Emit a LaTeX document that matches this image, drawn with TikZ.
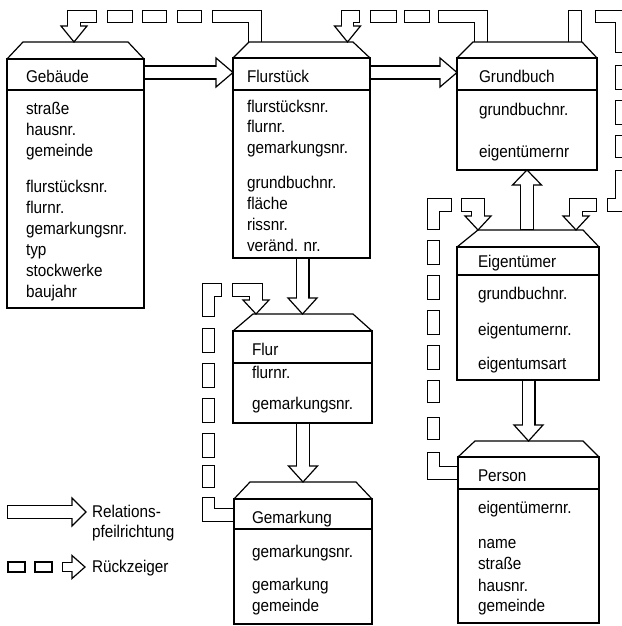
\documentclass[tikz,border=0pt]{standalone}
\usepackage{fontspec}
\setmainfont{Liberation Sans}[FakeStretch=0.9]
\usetikzlibrary{calc}
\tikzset{
  ln/.style={line width=1.2pt},
  box/.style={draw, line width=1.2pt, inner sep=0pt, outer sep=0pt, anchor=north west},
  txt/.style={anchor=base west, inner sep=0pt, outer sep=0pt, font=\fontsize{17}{20}\selectfont},
  bpout/.style={line width=13.5pt, line join=miter},
  bpin/.style={white, line width=11.1pt, line join=miter},
  headst/.style={draw, fill=white, line width=1.2pt, line join=miter},
}
% hollow shaft + hollow head: [white opts]{outer w}{inner w}{head half}{path to base}{(base)}{(tip)}
\newcommand\hollow[7][]{%
  \draw[line width=#2pt, line join=miter] #5;
  \draw[headst] ($#6!#4pt!90:#7$) -- #7 -- ($#6!#4pt!-90:#7$) -- cycle;
  \draw[white, line width=#3pt, line join=miter, #1] #5 -- ($#6!2pt!#7$);
}
% one segment of a back pointer (closed hollow piece)
\newcommand\bp[2][shorten <=1.2pt, shorten >=1.2pt]{%
  \draw[bpout] #2;
  \draw[bpin, #1] #2;
}
% entity: name, x, y, w, h, roof h, inset L, inset R, divider offset
\newcommand\ent[9]{%
  \node[box, minimum width=#4pt, minimum height=#5pt] (#1) at (#2,#3) {};
  \draw[ln, line join=miter] (#1.north west) -- ++(#7,-#6) -- ($(#1.north east)+(-#8,-#6)$) -- (#1.north east);
  \draw[ln] ($(#1.north west)+(0,#9)$) -- ($(#1.north east)+(0,#9)$);
}
\newcommand\tl[4]{\node[txt] (#1) at (#2,#3) {#4};}
\begin{document}
\begin{tikzpicture}[x=1pt, y=-1pt]
\useasboundingbox (0,0) rectangle (621,626);

% ---------- back pointers (Rueckzeiger) ----------
% Flurstueck -> Gebaeude
\bp[shorten >=1.2pt]{(255,42) -- (255,16.5) -- (212,16.5)}
\bp{(202,16.5) -- (177,16.5)}
\bp{(167,16.5) -- (142,16.5)}
\bp{(133,16.5) -- (107,16.5)}
\hollow[shorten <=1.2pt]{13.5}{11.1}{13}{(97,16.5) -- (74,16.5) -- (74,26)}{(74,26)}{(74,42)}
% Grundbuch -> Flurstueck
\bp[shorten >=1.2pt]{(481,42) -- (481,16.5) -- (438,16.5)}
\bp{(430,16.5) -- (404,16.5)}
\bp{(397,16.5) -- (370,16.5)}
\hollow[shorten <=1.2pt]{13.5}{11.1}{13}{(360,16.5) -- (347.5,16.5) -- (347.5,26)}{(347.5,26)}{(347.5,42)}
% Grundbuch -> Eigentuemer
\bp[shorten >=1.2pt]{(575,42) -- (575,9.75)}
\bp{(595,16.5) -- (622,16.5) -- (622,53)}
\bp{(622,65) -- (622,90)}
\bp{(622,100) -- (622,125)}
\bp{(622,135) -- (622,158)}
\bp{(622,170) -- (622,205) -- (607,205)}
\hollow[shorten <=1.2pt]{13.5}{11.1}{13}{(597,205) -- (576,205) -- (576,216)}{(576,216)}{(576,230)}
% Person -> Eigentuemer
\bp[shorten >=1.2pt]{(458,473) -- (433.5,473) -- (433.5,452)}
\bp{(433.5,440) -- (433.5,417)}
\bp{(433.5,403) -- (433.5,380)}
\bp{(433.5,370) -- (433.5,345)}
\bp{(433.5,335) -- (433.5,310)}
\bp{(433.5,300) -- (433.5,275)}
\bp{(433.5,265) -- (433.5,240)}
\bp{(433.5,230) -- (433.5,205) -- (452,205)}
\hollow[shorten <=1.2pt]{13.5}{11.1}{13}{(461,205) -- (478,205) -- (478,216)}{(478,216)}{(478,230)}
% Gemarkung -> Flur
\bp[shorten >=1.2pt]{(234,515) -- (208.5,515) -- (208.5,497)}
\bp{(208.5,488) -- (208.5,465)}
\bp{(208.5,458) -- (208.5,433)}
\bp{(208.5,423) -- (208.5,398)}
\bp{(208.5,388) -- (208.5,363)}
\bp{(208.5,353) -- (208.5,328)}
\bp{(208.5,317) -- (208.5,290) -- (222,290)}
\hollow[shorten <=1.2pt]{13.5}{11.1}{13}{(232,290) -- (256,290) -- (256,300)}{(256,300)}{(256,314)}

% ---------- entities ----------
\ent{geb}{7}{59}{137}{249}{17}{16}{16}{31}
\ent{flst}{233}{58}{137}{200}{16}{16}{17}{32}
\ent{grb}{457}{58}{140}{112}{16}{16}{15}{32}
\ent{eig}{457}{247}{142}{133}{17}{21}{16}{28}
\ent{pers}{458}{457}{141}{166}{16}{17}{16}{32}
\ent{flur}{233}{331}{139}{92}{17}{20}{19}{32}
\ent{gem}{234}{499}{138}{125}{17}{16}{16}{30}

% ---------- relation arrows ----------
\coordinate (r1s) at ($(geb.north east)+(0,13.5)$);
\coordinate (r1t) at (flst.west |- r1s);
\coordinate (r1b) at ($(r1t)+(-17,0)$);
\hollow[shorten <=0.6pt]{14}{11.6}{14.5}{(r1s) -- (r1b)}{(r1b)}{(r1t)}
\coordinate (r2s) at (flst.east |- r1s);
\coordinate (r2t) at (grb.west |- r1s);
\coordinate (r2b) at ($(r2t)+(-17,0)$);
\hollow[shorten <=0.6pt]{14}{11.6}{14.5}{(r2s) -- (r2b)}{(r2b)}{(r2t)}
\coordinate (r3t) at ($(flur.north)+(0,-17)$);
\coordinate (r3s) at (r3t |- flst.south);
\coordinate (r3b) at ($(r3t)+(0,-16)$);
\hollow[shorten <=0.6pt]{14}{11.6}{14.5}{(r3s) -- (r3b)}{(r3b)}{(r3t)}
\coordinate (r4t) at ($(gem.north)+(0,-17)$);
\coordinate (r4s) at (r4t |- flur.south);
\coordinate (r4b) at ($(r4t)+(0,-16)$);
\hollow[shorten <=0.6pt]{14}{11.6}{14.5}{(r4s) -- (r4b)}{(r4b)}{(r4t)}
\coordinate (r5t) at (grb.south);
\coordinate (r5s) at ($(r5t |- eig.north)+(0,-17)$);
\coordinate (r5b) at ($(r5t)+(0,15)$);
\hollow[shorten <=0.6pt]{14}{11.6}{14.5}{(r5s) -- (r5b)}{(r5b)}{(r5t)}
\coordinate (r6t) at ($(pers.north)+(0,-16)$);
\coordinate (r6s) at (r6t |- eig.south);
\coordinate (r6b) at ($(r6t)+(0,-16)$);
\hollow[shorten <=0.6pt]{14}{11.6}{14.5}{(r6s) -- (r6b)}{(r6b)}{(r6t)}

% ---------- texts ----------
\tl{geb-t}{26}{82}{Gebäude}
\tl{geb-1}{26}{114}{straße}
\tl{geb-2}{26}{135}{hausnr.}
\tl{geb-3}{26}{156}{gemeinde}
\tl{geb-4}{26}{192}{flurstücksnr.}
\tl{geb-5}{26}{213}{flurnr.}
\tl{geb-6}{26}{234}{gemarkungsnr.}
\tl{geb-7}{26}{255}{typ}
\tl{geb-8}{26}{276}{stockwerke}
\tl{geb-9}{26}{297}{baujahr}

\tl{flst-t}{247}{82}{Flurstück}
\tl{flst-1}{247}{112}{flurstücksnr.}
\tl{flst-2}{247}{132}{flurnr.}
\tl{flst-3}{247}{153}{gemarkungsnr.}
\tl{flst-4}{247}{188}{grundbuchnr.}
\tl{flst-5}{247}{209}{fläche}
\tl{flst-6}{247}{230}{rissnr.}
\tl{flst-7}{247}{251}{veränd. nr.}

\tl{grb-t}{479}{82}{Grundbuch}
\tl{grb-1}{479}{115}{grundbuchnr.}
\tl{grb-2}{479}{157}{eigentümernr}

\tl{eig-t}{478}{267}{Eigentümer}
\tl{eig-1}{478}{299}{grundbuchnr.}
\tl{eig-2}{478}{335}{eigentumernr.}
\tl{eig-3}{478}{369}{eigentumsart}

\tl{pers-t}{478}{481}{Person}
\tl{pers-1}{478}{513}{eigentümernr.}
\tl{pers-2}{478}{548}{name}
\tl{pers-3}{478}{569}{straße}
\tl{pers-4}{478}{591}{hausnr.}
\tl{pers-5}{478}{611}{gemeinde}

\tl{flur-t}{252}{355}{Flur}
\tl{flur-1}{252}{378}{flurnr.}
\tl{flur-2}{252}{409}{gemarkungsnr.}

\tl{gem-t}{252}{523}{Gemarkung}
\tl{gem-1}{252}{557}{gemarkungsnr.}
\tl{gem-2}{252}{590}{gemarkung}
\tl{gem-3}{252}{611}{gemeinde}

% ---------- legend ----------
\coordinate (lg1s) at (7,512);
\coordinate (lg1b) at (72,512);
\coordinate (lg1t) at (86,512);
\hollow[shorten <=1.2pt]{14}{11.6}{14}{(lg1s) -- (lg1b)}{(lg1b)}{(lg1t)}
\tl{lg-1}{92}{517}{Relations-}
\tl{lg-2}{92}{537}{pfeilrichtung}
\draw[ln] (8,562) rectangle (25,572);
\draw[ln] (35,562) rectangle (52,572);
\coordinate (lg2s) at (62,567);
\coordinate (lg2b) at (72,567);
\coordinate (lg2t) at (85,567);
\hollow[shorten <=1.2pt]{10}{7.6}{11.5}{(lg2s) -- (lg2b)}{(lg2b)}{(lg2t)}
\tl{lg-3}{92}{572}{Rückzeiger}
\end{tikzpicture}
\end{document}
